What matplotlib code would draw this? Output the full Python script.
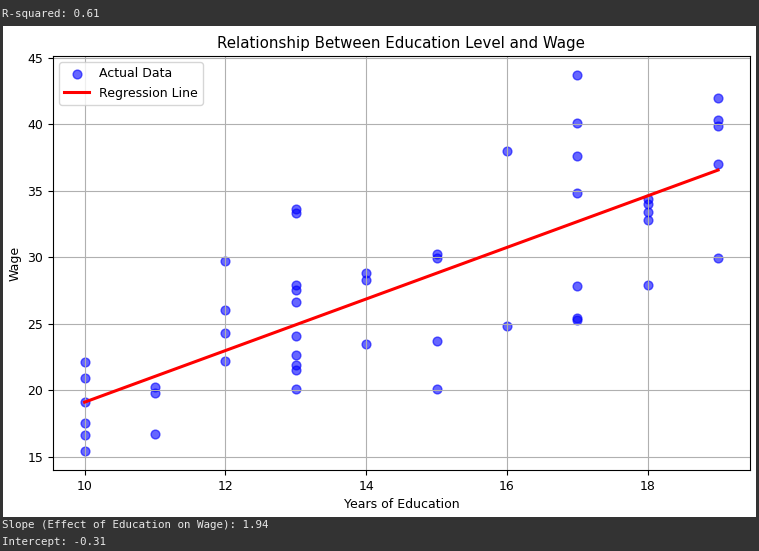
import numpy as np
import matplotlib.pyplot as plt
from matplotlib.patches import Rectangle

# Years of education and wage readings
years = [10, 10, 10, 10, 10, 10,
         11, 11, 11,
         12, 12, 12, 12,
         13, 13, 13, 13, 13, 13, 13, 13, 13, 13,
         14, 14, 14,
         15, 15, 15, 15,
         16, 16,
         17, 17, 17, 17, 17, 17, 17,
         18, 18, 18, 18, 18,
         19, 19, 19, 19, 19]
wage = [22.1, 20.9, 19.1, 17.5, 16.6, 15.4,
        20.2, 19.8, 16.7,
        29.7, 26.0, 24.3, 22.2,
        33.6, 33.3, 27.9, 27.5, 26.6, 24.1, 22.6, 21.9, 21.5, 20.1,
        28.8, 28.3, 23.5,
        30.2, 29.9, 23.7, 20.1,
        38.0, 24.8,
        43.7, 40.1, 37.6, 34.8, 27.8, 25.4, 25.3,
        34.4, 34.0, 33.4, 32.8, 27.9,
        42.0, 40.3, 39.9, 37.0, 29.9]

slope = 1.94
intercept = -0.31
r_squared = 0.61

x = np.array(years)
y = np.array(wage)
pred = slope * x + intercept

plt.rcParams['font.size'] = 9

fig = plt.figure(figsize=(7.59, 5.51), dpi=100, facecolor='#333333')
# white canvas area inside the dark terminal frame
fig.patches.append(Rectangle((3 / 759, 34 / 551), 753 / 759, 491 / 551,
                             transform=fig.transFigure, facecolor='white',
                             edgecolor='none', zorder=-10))

ax = fig.add_axes([0.0698, 0.147, 0.918, 0.751])
ax.set_zorder(5)
ax.scatter(x, y, color='blue', alpha=0.6, s=40, label='Actual Data')
ax.plot(x, pred, color='red', linewidth=2.2, label='Regression Line')
ax.set_xlabel('Years of Education')
ax.set_ylabel('Wage')
ax.set_title('Relationship Between Education Level and Wage', fontsize=10.8)
ax.grid(True)
ax.legend(loc='upper left')

# terminal output printed around the figure
mono = dict(family='DejaVu Sans Mono', fontsize=7.8, color='#e8e8e8')
fig.text(2 / 759, 1 - 14 / 551, f'R-squared: {r_squared:.2f}', va='center', **mono)
fig.text(2 / 759, 1 - 525 / 551,
         f'Slope (Effect of Education on Wage): {slope:.2f}', va='center', **mono)
fig.text(2 / 759, 1 - 542 / 551, f'Intercept: {intercept:.2f}', va='center', **mono)

fig.savefig('out.png', dpi=100, facecolor=fig.get_facecolor())
